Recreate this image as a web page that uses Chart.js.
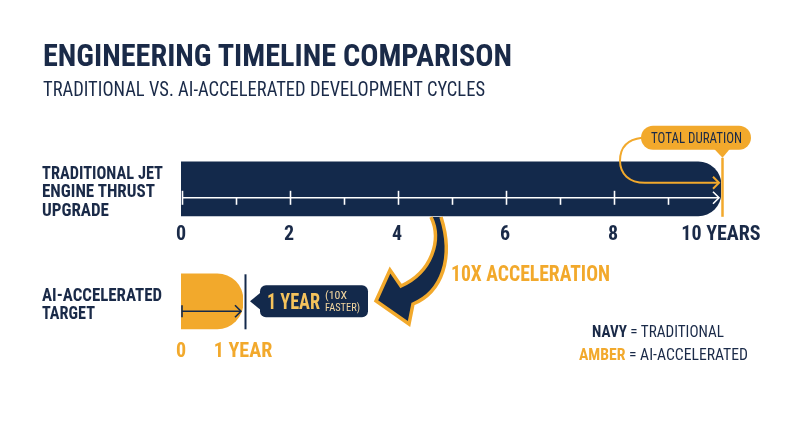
<!DOCTYPE html>
<html>
<head>
<meta charset="utf-8">
<script src="https://cdn.jsdelivr.net/npm/chart.js@4.4.0/dist/chart.umd.min.js"></script>
<style>
  html, body { margin: 0; padding: 0; background: #fff; }
  body { width: 800px; height: 447px; position: relative; overflow: hidden; font-family: Roboto, sans-serif; }
  .layer { position: absolute; left: 0; top: 0; }
  .txt { position: absolute; white-space: nowrap; line-height: 1; transform-origin: 0 0; font-weight: bold; font-stretch: 75%; color: #1a2a48; }
</style>
</head>
<body>
<canvas id="tradChart" class="layer" width="800" height="250"></canvas>
<canvas id="aiChart" class="layer" width="800" height="447"></canvas>
<div id="labels"></div>

<script>
// --- DADOS ---
const rowLabels = ['TRADITIONAL JET ENGINE THRUST UPGRADE', 'AI-ACCELERATED TARGET'];
const durationYears = [10, 1];
const tradTicks = [0, 2, 4, 6, 8, 10];
const tradTickLabels = ['0', '2', '4', '6', '8', '10 YEARS'];
const aiTicks = [0, 1];
const aiTickLabels = ['0', '1 YEAR'];
const speedupLabel = '10X ACCELERATION';
const calloutTotal = 'TOTAL DURATION';
const calloutAi = ['1 YEAR', '(10X', 'FASTER)'];

const NAVY = '#13294b';
const AMBER = '#f2a92c';
const INK = '#1a2a48';
const FONT = 'Roboto';

Chart.defaults.font.family = FONT;

// texto HTML ajustado a uma largura
function placeText(html, left, cy, width, size, opts = {}) {
  const el = document.createElement('div');
  el.className = 'txt';
  el.innerHTML = html;
  el.style.fontSize = size + 'px';
  el.style.fontWeight = opts.weight || 'bold';
  if (opts.color) el.style.color = opts.color;
  el.style.left = left + 'px';
  el.style.top = (cy - 0.49 * size) + 'px';
  document.getElementById('labels').appendChild(el);
  const w = el.getBoundingClientRect().width;
  el.style.transform = `scaleX(${width / w})`;
  return el;
}

// texto no canvas ajustado a uma largura
function fitText(ctx, text, x, cy, width, size, color, weight = 'bold') {
  ctx.save();
  ctx.font = `condensed ${weight} ${size}px ${FONT}`;
  ctx.fillStyle = color;
  ctx.textBaseline = 'alphabetic';
  const m = ctx.measureText(text).width;
  ctx.translate(x, cy + 0.355 * size);
  ctx.scale(width / m, 1);
  ctx.fillText(text, 0, 0);
  ctx.restore();
}

function chevron(ctx, x, y, s) {
  ctx.beginPath();
  ctx.moveTo(x - s, y - s);
  ctx.lineTo(x, y);
  ctx.lineTo(x - s, y + s);
  ctx.stroke();
}

// --- DECORAÇÃO DA BARRA TRADICIONAL ---
const tradDecor = {
  id: 'tradDecor',
  afterDatasetsDraw(chart) {
    const ctx = chart.ctx;
    const x = chart.scales.x;
    const bar = chart.getDatasetMeta(0).data[0];
    const cy = bar.y;
    const ly = cy + 9;
    const x0 = x.getPixelForValue(0) + 1;
    const xEnd = x.getPixelForValue(durationYears[0]);

    ctx.save();
    ctx.strokeStyle = '#fff';
    ctx.lineWidth = 1.6;
    ctx.beginPath();
    ctx.moveTo(x0, ly);
    ctx.lineTo(xEnd - 2, ly);
    ctx.stroke();
    for (let v = 0; v < durationYears[0]; v++) {
      const px = Math.round(x.getPixelForValue(v)) + 1.5;
      ctx.beginPath();
      if (v % 2 === 0) { ctx.moveTo(px, ly - 7); ctx.lineTo(px, ly + 7); }
      else { ctx.moveTo(px, ly); ctx.lineTo(px, ly + 7); }
      ctx.stroke();
    }
    chevron(ctx, xEnd - 2, ly, 6);

    // linha âmbar no fim
    ctx.strokeStyle = AMBER;
    ctx.lineWidth = 2.5;
    ctx.beginPath();
    ctx.moveTo(xEnd + 1.5, cy - 31);
    ctx.lineTo(xEnd + 1.5, cy + 28);
    ctx.stroke();

    // balão TOTAL DURATION
    const pl = xEnd - 80, pr = xEnd + 30, pt = cy - 63, pb = cy - 39;
    ctx.fillStyle = AMBER;
    ctx.beginPath();
    ctx.roundRect(pl, pt, pr - pl, pb - pt, 12);
    ctx.fill();
    ctx.beginPath();
    ctx.moveTo(xEnd - 7, pb - 1);
    ctx.lineTo(xEnd + 9, pb - 1);
    ctx.lineTo(xEnd + 1.5, pb + 8);
    ctx.closePath();
    ctx.fill();
    fitText(ctx, calloutTotal, pl + 10, (pt + pb) / 2, 91, 15, INK, 'normal');

    // seta curva do balão até o fim
    ctx.strokeStyle = AMBER;
    ctx.lineWidth = 2;
    ctx.beginPath();
    ctx.moveTo(pl + 1, (pt + pb) / 2);
    ctx.bezierCurveTo(pl - 16, (pt + pb) / 2 + 2, pl - 21, cy - 40, pl - 21, cy - 28);
    ctx.bezierCurveTo(pl - 21, cy - 15, pl - 12, cy - 6, pl + 4, cy - 6);
    ctx.lineTo(xEnd - 2, cy - 6);
    ctx.stroke();
    chevron(ctx, xEnd - 2, cy - 6, 6);
    ctx.restore();
  }
};

// --- DECORAÇÃO DA BARRA IA ---
const aiDecor = {
  id: 'aiDecor',
  afterDatasetsDraw(chart) {
    const ctx = chart.ctx;
    const x = chart.scales.x;
    const bar = chart.getDatasetMeta(0).data[0];
    const cy = bar.y;
    const x0 = x.getPixelForValue(0) + 1;
    const xEnd = x.getPixelForValue(durationYears[1]);

    ctx.save();
    // linha navy no fim
    ctx.strokeStyle = NAVY;
    ctx.lineWidth = 2;
    ctx.beginPath();
    ctx.moveTo(xEnd + 2.5, cy - 27);
    ctx.lineTo(xEnd + 2.5, cy + 28);
    ctx.stroke();

    // seta interna
    const ay = cy + 10;
    ctx.lineWidth = 1.6;
    ctx.beginPath();
    ctx.moveTo(x0, ay);
    ctx.lineTo(xEnd - 2, ay);
    ctx.moveTo(x0, ay - 6);
    ctx.lineTo(x0, ay + 6);
    ctx.stroke();
    chevron(ctx, xEnd - 2, ay, 6);

    // balão 1 YEAR (10X FASTER)
    const bl = xEnd + 17, br = xEnd + 125, bt = cy - 16, bb = cy + 16;
    ctx.fillStyle = NAVY;
    ctx.beginPath();
    ctx.roundRect(bl, bt, br - bl, bb - bt, 6);
    ctx.fill();
    ctx.beginPath();
    ctx.moveTo(bl + 1, cy - 9);
    ctx.lineTo(bl + 1, cy + 9);
    ctx.lineTo(bl - 10, cy);
    ctx.closePath();
    ctx.fill();
    fitText(ctx, calloutAi[0], bl + 7, cy, 53, 22, '#f5c35c');
    fitText(ctx, calloutAi[1], bl + 65, cy - 6, 22, 11, '#f3d7a0', 'normal');
    fitText(ctx, calloutAi[2], bl + 65, cy + 6, 35, 11, '#f3d7a0', 'normal');

    // seta grande curva
    ctx.fillStyle = NAVY;
    ctx.strokeStyle = AMBER;
    ctx.lineWidth = 3.5;
    ctx.lineJoin = 'miter';
    ctx.beginPath();
    ctx.moveTo(431, 217);
    ctx.bezierCurveTo(442, 240, 432, 272, 401, 286);
    ctx.lineTo(390, 270);
    ctx.lineTo(376, 301);
    ctx.lineTo(409, 324);
    ctx.lineTo(413, 304);
    ctx.bezierCurveTo(442, 292, 454, 258, 441, 217);
    ctx.fill();
    ctx.stroke();
    ctx.restore();
  }
};

// --- GRÁFICOS ---
const tickFont = { size: 20, weight: 'condensed bold', lineHeight: 1.2 };

new Chart(document.getElementById('tradChart'), {
  type: 'bar',
  data: {
    labels: [rowLabels[0]],
    datasets: [{ data: [durationYears[0]], backgroundColor: NAVY, borderRadius: 23, borderSkipped: 'start', barThickness: 54 }]
  },
  options: {
    indexAxis: 'y', responsive: false, animation: false,
    layout: { padding: { left: 181, right: 79, top: 157.6, bottom: 0 } },
    plugins: { legend: { display: false }, tooltip: { enabled: false } },
    scales: {
      y: { display: false },
      x: {
        min: tradTicks[0], max: tradTicks[tradTicks.length - 1],
        grid: { display: false, drawTicks: false }, border: { display: false },
        ticks: {
          stepSize: 2, padding: 3, color: INK, font: tickFont, autoSkip: false, maxRotation: 0, minRotation: 0,
          callback: (v) => tradTickLabels[tradTicks.indexOf(v)] ?? ''
        }
      }
    }
  },
  plugins: [tradDecor]
});

new Chart(document.getElementById('aiChart'), {
  type: 'bar',
  data: {
    labels: [rowLabels[1]],
    datasets: [{ data: [durationYears[1]], backgroundColor: AMBER, borderRadius: 26, borderSkipped: 'start', barThickness: 55 }]
  },
  options: {
    indexAxis: 'y', responsive: false, animation: false,
    layout: { padding: { left: 181, right: 557, top: 266, bottom: 80.4 } },
    plugins: { legend: { display: false }, tooltip: { enabled: false } },
    scales: {
      y: { display: false },
      x: {
        min: aiTicks[0], max: aiTicks[aiTicks.length - 1],
        grid: { display: false, drawTicks: false }, border: { display: false },
        ticks: {
          stepSize: 1, padding: 3, color: AMBER, font: tickFont, autoSkip: false, maxRotation: 0, minRotation: 0,
          callback: (v) => aiTickLabels[aiTicks.indexOf(v)] ?? ''
        }
      }
    }
  },
  plugins: [aiDecor]
});

// --- TEXTOS ---
placeText('ENGINEERING TIMELINE COMPARISON', 43, 54.5, 469, 32);
placeText('TRADITIONAL VS. AI-ACCELERATED DEVELOPMENT CYCLES', 43, 89, 442, 20, { weight: 'normal' });
placeText('TRADITIONAL JET', 42, 173, 121, 18);
placeText('ENGINE THRUST', 42, 191, 113, 18);
placeText('UPGRADE', 42, 209.5, 67, 18);
placeText('AI-ACCELERATED', 42, 295, 120, 18);
placeText('TARGET', 42, 313, 53, 18);
placeText(speedupLabel, 451, 274, 159, 22, { color: AMBER });
placeText(`NAVY <span style="font-weight:normal">= TRADITIONAL</span>`, 592, 331, 132, 17);
placeText(`<span style="color:${AMBER}">AMBER</span> <span style="font-weight:normal">= AI-ACCELERATED</span>`, 579, 354.5, 169, 17);
</script>
</body>
</html>
